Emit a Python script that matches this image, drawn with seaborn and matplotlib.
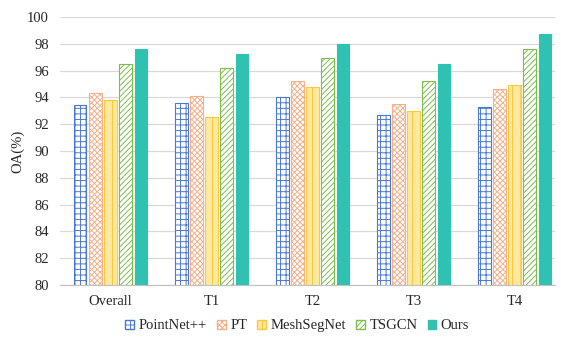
import pandas as pd
import matplotlib.pyplot as plt
import matplotlib.patches as mpatches
import seaborn as sns

# data
groups = ["Overall", "T1", "T2", "T3", "T4"]
methods = ["PointNet++", "PT", "MeshSegNet", "TSGCN", "Ours"]
pointnet = [93.4, 93.6, 94.0, 92.7, 93.3]
pt = [94.3, 94.1, 95.2, 93.5, 94.6]
meshsegnet = [93.8, 92.5, 94.8, 93.0, 94.9]
tsgcn = [96.5, 96.2, 96.9, 95.2, 97.6]
ours = [97.6, 97.2, 98.0, 96.5, 98.7]
yticks = [80, 82, 84, 86, 88, 90, 92, 94, 96, 98, 100]

rows = []
for m, vals in zip(methods, [pointnet, pt, meshsegnet, tsgcn, ours]):
    for g, v in zip(groups, vals):
        rows.append({"group": g, "method": m, "OA": v})
df = pd.DataFrame(rows)

# style per method: face, edge/hatch colour, hatch
styles = {
    "PointNet++": ("white", "#4A78D0", "+++"),
    "PT": ("white", "#F6B08A", "xxxxxx"),
    "MeshSegNet": ("#FFE8A0", "#F9C940", "||"),
    "TSGCN": ("white", "#7DBE4E", "//////"),
    "Ours": ("#2FC1B1", "#2FC1B1", ""),
}

sns.set_style("white")
plt.rcParams["font.family"] = ["Liberation Serif", "DejaVu Serif"]
plt.rcParams["hatch.linewidth"] = 0.7

fig = plt.figure(figsize=(5.61, 3.37), dpi=100)
ax = fig.add_axes([60 / 561, 0.154, 495 / 561, 0.796])

sns.barplot(data=df, x="group", y="OA", hue="method", order=groups,
            hue_order=methods, width=0.75, gap=0.17, ax=ax, legend=False)

for cont, m in zip(ax.containers, methods):
    face, edge, hatch = styles[m]
    for bar in cont:
        bar.set_facecolor(face)
        bar.set_edgecolor(edge)
        bar.set_hatch(hatch)
        bar.set_linewidth(0.8)

ax.set_ylim(80, 100)
ax.set_yticks(yticks)
ax.set_xlim(-0.5, 4.4)
ax.set_xlabel("")
ax.set_ylabel("OA(%)", fontsize=10.5, labelpad=2)
ax.tick_params(axis="y", labelsize=10.5, length=0, pad=8)
ax.tick_params(axis="x", labelsize=10.5, length=0, pad=7)
ax.yaxis.grid(True, color="#D9D9D9", linewidth=0.9)
ax.set_axisbelow(True)
for s in ["top", "right", "left"]:
    ax.spines[s].set_visible(False)
ax.spines["bottom"].set_color("#BFBFBF")

handles = []
for m in methods:
    face, edge, hatch = styles[m]
    handles.append(mpatches.Patch(facecolor=face, edgecolor=edge, hatch=hatch, label=m))
fig.legend(handles=handles, loc="lower center", ncol=5, frameon=False,
           fontsize=10.5, bbox_to_anchor=(0.53, -0.025), handlelength=0.6,
           handleheight=0.6, handletextpad=0.3, columnspacing=0.7)

plt.savefig("out.png", dpi=100)
